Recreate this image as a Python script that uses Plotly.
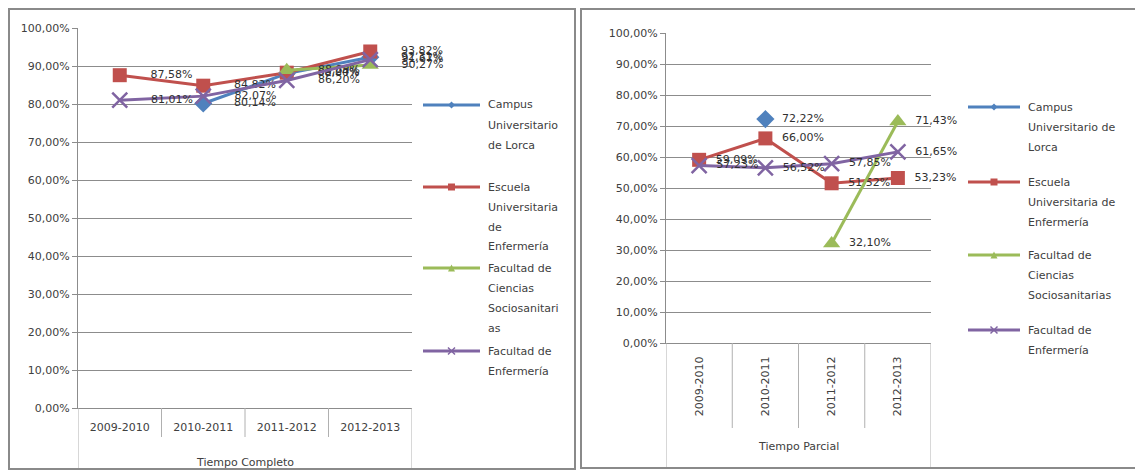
import plotly.graph_objects as go

# page is shown at 1143x470, the html body has an 8px default margin
PAGE_W, PAGE_H, OFF = 1143, 470, 8
W, H = PAGE_W - OFF, PAGE_H - OFF

# ---------------- data ----------------
categories = ["2009-2010", "2010-2011", "2011-2012", "2012-2013"]
series_names = [
    "Campus Universitario de Lorca",
    "Escuela Universitaria de Enfermería",
    "Facultad de Ciencias Sociosanitarias",
    "Facultad de Enfermería",
]

# Tiempo Completo
lorca_tc = [None, 0.8014, 0.8800, 0.9231]
escuela_tc = [0.8758, 0.8482, 0.8824, 0.9382]
ccss_tc = [None, None, 0.8889, 0.9027]
enfermeria_tc = [0.8101, 0.8207, 0.8620, 0.9167]

# Tiempo Parcial
lorca_tp = [None, 0.7222, None, None]
escuela_tp = [0.5909, 0.6600, 0.5152, 0.5323]
ccss_tp = [None, None, 0.3210, 0.7143]
enfermeria_tp = [0.5723, 0.5652, 0.5785, 0.6165]

y_ticks = [0.0, 0.1, 0.2, 0.3, 0.4, 0.5, 0.6, 0.7, 0.8, 0.9, 1.0]

axis_titles = ["Tiempo Completo", "Tiempo Parcial"]

legend_lines_tc = [
    ["Campus", "Universitario", "de Lorca"],
    ["Escuela", "Universitaria", "de", "Enfermería"],
    ["Facultad de", "Ciencias", "Sociosanitari", "as"],
    ["Facultad de", "Enfermería"],
]
legend_lines_tp = [
    ["Campus", "Universitario de", "Lorca"],
    ["Escuela", "Universitaria de", "Enfermería"],
    ["Facultad de", "Ciencias", "Sociosanitarias"],
    ["Facultad de", "Enfermería"],
]

# ---------------- style ----------------
colors = ["#4F81BD", "#C0504D", "#9BBB59", "#8064A2"]
symbols = ["diamond", "square", "triangle-up", "x-thin"]
FONT = "DejaVu Sans"
GRID = "#8c8c8c"
TXT = "#404040"


def fx(px):
    return (px - OFF) / W


def fy(py):
    return 1 - (py - OFF) / H


def label(v, pad):
    if v is None:
        return ""
    return "\u00a0" * pad + f"{v * 100:.2f}".replace(".", ",") + "%"


fig = go.Figure()

panels = [
    dict(xa="x", ya="y", pad=6, data=[lorca_tc, escuela_tc, ccss_tc, enfermeria_tc]),
    dict(xa="x2", ya="y2", pad=2, data=[lorca_tp, escuela_tp, ccss_tp, enfermeria_tp]),
]

for p in panels:
    for i, vals in enumerate(p["data"]):
        sym = symbols[i]
        if sym == "x-thin":
            marker = dict(symbol=sym, size=15, color=colors[i],
                          line=dict(width=2.5, color=colors[i]))
        else:
            marker = dict(symbol=sym, size=14 if sym != "triangle-up" else 15,
                          color=colors[i], line=dict(width=0))
        fig.add_trace(go.Scatter(
            x=categories, y=vals, xaxis=p["xa"], yaxis=p["ya"],
            name=series_names[i], mode="lines+markers+text",
            line=dict(color=colors[i], width=3),
            marker=marker,
            text=[label(v, p["pad"]) for v in vals],
            textposition="middle right",
            textfont=dict(family=FONT, size=11, color="#303030"),
            cliponaxis=False, showlegend=False, connectgaps=False,
        ))

# geometry (page pixels)
geo = [
    dict(x0=78, x1=412, ytop=28, ybot=408, sep_end=437, edge_end=470,
         title_y=462, tickangle=0, standoff=9,
         leg_sym=(423, 480), leg_txt=486, leg_first=[105, 187, 268, 351],
         leg_lines=legend_lines_tc, step=20),
    dict(x0=666, x1=931, ytop=33, ybot=343, sep_end=428, edge_end=468,
         title_y=446, tickangle=-90, standoff=8,
         leg_sym=(968, 1020), leg_txt=1026, leg_first=[107, 182, 255, 330],
         leg_lines=legend_lines_tp, step=20),
]

layout = dict(
    width=W, height=H, margin=dict(l=0, r=0, t=0, b=0, autoexpand=False),
    paper_bgcolor="white", plot_bgcolor="white",
    separators=", ", showlegend=False,
    font=dict(family=FONT, size=11, color=TXT),
)

shapes = []
annotations = []

for k, g in enumerate(geo):
    xname = "xaxis" if k == 0 else "xaxis2"
    yname = "yaxis" if k == 0 else "yaxis2"
    xref = "x" if k == 0 else "x2"
    yref = "y" if k == 0 else "y2"
    layout[xname] = dict(
        domain=[fx(g["x0"]), fx(g["x1"])], anchor=yref, type="category",
        categoryorder="array", categoryarray=categories,
        range=[-0.5, len(categories) - 0.5], automargin=False,
        showline=True, linecolor=GRID, linewidth=1, showgrid=False,
        ticks="", tickangle=g["tickangle"], ticklabelstandoff=g["standoff"],
        tickfont=dict(family=FONT, size=11, color=TXT), zeroline=False,
    )
    layout[yname] = dict(
        domain=[fy(g["ybot"]), fy(g["ytop"])], anchor=xref, automargin=False,
        range=[0, 1], tickvals=y_ticks, tickformat=".2%",
        showline=True, linecolor=GRID, linewidth=1,
        showgrid=True, gridcolor=GRID, gridwidth=1,
        ticks="outside", ticklen=5, tickcolor=GRID,
        tickfont=dict(family=FONT, size=11, color=TXT), zeroline=False,
    )
    # category separators
    for j in range(1, len(categories)):
        shapes.append(dict(type="line", xref=xref, yref="paper",
                           x0=j - 0.5, x1=j - 0.5,
                           y0=fy(g["ybot"]), y1=fy(g["sep_end"]),
                           line=dict(color="#b0b0b0", width=1)))
    for e in (-0.5, len(categories) - 0.5):
        shapes.append(dict(type="line", xref=xref, yref="paper",
                           x0=e, x1=e, y0=fy(g["ybot"]), y1=fy(g["edge_end"]),
                           line=dict(color="#b0b0b0", width=1)))
    annotations.append(dict(text=axis_titles[k], xref=f"{xref} domain", yref="paper",
                            x=0.5, y=fy(g["title_y"]), showarrow=False,
                            xanchor="center", yanchor="middle",
                            font=dict(family=FONT, size=11, color=TXT)))
    # legend
    s0, s1 = g["leg_sym"]
    for i, lines in enumerate(g["leg_lines"]):
        ly = g["leg_first"][i]
        shapes.append(dict(type="line", xref="paper", yref="paper",
                           x0=fx(s0), x1=fx(s1), y0=fy(ly), y1=fy(ly),
                           line=dict(color=colors[i], width=3)))
        cx = (s0 + s1) / 2
        r = 3.5
        if symbols[i] == "square":
            shapes.append(dict(type="rect", xref="paper", yref="paper",
                               x0=fx(cx - r), x1=fx(cx + r), y0=fy(ly - r), y1=fy(ly + r),
                               fillcolor=colors[i], line=dict(width=0)))
        elif symbols[i] == "diamond":
            path = (f"M{fx(cx - r)},{fy(ly)} L{fx(cx)},{fy(ly - r)} "
                    f"L{fx(cx + r)},{fy(ly)} L{fx(cx)},{fy(ly + r)} Z")
            shapes.append(dict(type="path", xref="paper", yref="paper", path=path,
                               fillcolor=colors[i], line=dict(width=0)))
        elif symbols[i] == "triangle-up":
            path = (f"M{fx(cx - r)},{fy(ly + r)} L{fx(cx)},{fy(ly - r)} "
                    f"L{fx(cx + r)},{fy(ly + r)} Z")
            shapes.append(dict(type="path", xref="paper", yref="paper", path=path,
                               fillcolor=colors[i], line=dict(width=0)))
        else:
            for dy in (-r, r):
                shapes.append(dict(type="line", xref="paper", yref="paper",
                                   x0=fx(cx - r), x1=fx(cx + r),
                                   y0=fy(ly - dy), y1=fy(ly + dy),
                                   line=dict(color=colors[i], width=1.5)))
        for li, t in enumerate(lines):
            annotations.append(dict(text=t, xref="paper", yref="paper",
                                    x=fx(g["leg_txt"]), y=fy(ly + li * g["step"]),
                                    showarrow=False, xanchor="left", yanchor="middle",
                                    font=dict(family=FONT, size=11, color=TXT)))

# chart borders
for (x0, x1, y0, y1) in [(9, 575, 9, 469), (581, 1141, 9, 468)]:
    shapes.append(dict(type="rect", xref="paper", yref="paper",
                       x0=fx(x0), x1=fx(x1), y0=fy(y1), y1=fy(y0),
                       line=dict(color="#8a8a8a", width=2), fillcolor="rgba(0,0,0,0)",
                       layer="above"))

layout["shapes"] = shapes
layout["annotations"] = annotations
fig.update_layout(**layout)

fig.write_html("out.html")
